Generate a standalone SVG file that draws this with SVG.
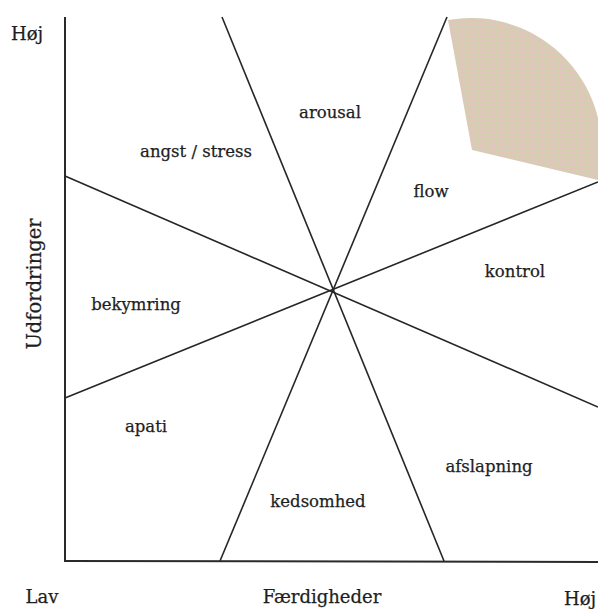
<svg xmlns="http://www.w3.org/2000/svg" width="598" height="609" viewBox="0 0 598 609">
  <style>
    .lbl { font-family: "DejaVu Serif", "Liberation Serif", serif; font-size: 16.5px; fill: #1e1e1e; stroke: #1e1e1e; stroke-width: 0.25; text-anchor: middle; }
    .axl { font-size: 18px; }
    .ln { stroke: #262626; stroke-width: 1.6; fill: none; }
    .ax { stroke: #2a2a2a; stroke-width: 2; fill: none; }
  </style>
  <defs>
    <pattern id="tex" width="10" height="4" patternUnits="userSpaceOnUse">
      <rect width="10" height="4" fill="#dacbb2"/>
      <rect y="0" width="6" height="1" fill="#e0c5bf"/>
      <rect x="4" y="2" width="6" height="1" fill="#d3cfb3"/>
    </pattern>
  </defs>
  <rect width="598" height="609" fill="#ffffff"/>
  <g id="flow-zone">
    <path d="M472,150 L448,20 A131,131 0 0 1 598,180 Z" fill="url(#tex)"/>
  </g>
  <g id="connectors">
    <line class="ax" x1="65" y1="17" x2="65" y2="561"/>
    <line class="ax" x1="64" y1="561" x2="598" y2="562"/>
    <line class="ln" x1="222" y1="17" x2="444" y2="561"/>
    <line class="ln" x1="447" y1="17" x2="220" y2="561"/>
    <line class="ln" x1="65" y1="176" x2="598" y2="407"/>
    <line class="ln" x1="65" y1="398" x2="598" y2="182"/>
  </g>
  <g id="axis-labels">
    <text class="lbl axl" x="27" y="40">Høj</text>
    <text class="lbl axl" x="42" y="603">Lav</text>
    <text class="lbl axl" x="322" y="603">Færdigheder</text>
    <text class="lbl axl" x="580" y="605">Høj</text>
    <text class="lbl" style="font-size:19.5px" transform="translate(41,284) rotate(-90)">Udfordringer</text>
  </g>
  <g id="arousal"><text class="lbl" x="330" y="118">arousal</text></g>
  <g id="angst"><text class="lbl" x="196" y="157">angst / stress</text></g>
  <g id="flow"><text class="lbl" x="431" y="197">flow</text></g>
  <g id="kontrol"><text class="lbl" x="515" y="277">kontrol</text></g>
  <g id="bekymring"><text class="lbl" x="136" y="310">bekymring</text></g>
  <g id="apati"><text class="lbl" x="146" y="432">apati</text></g>
  <g id="afslapning"><text class="lbl" x="489" y="472">afslapning</text></g>
  <g id="kedsomhed"><text class="lbl" x="318" y="507">kedsomhed</text></g>
</svg>
